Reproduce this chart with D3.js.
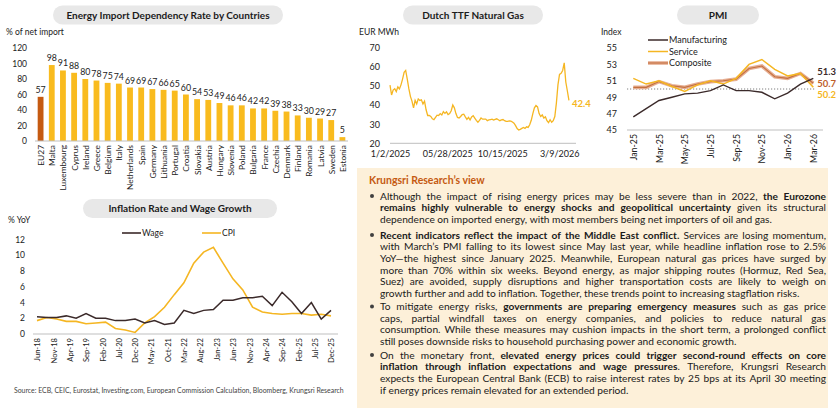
<!DOCTYPE html>
<html>
<head>
<meta charset="utf-8">
<script src="https://cdn.jsdelivr.net/npm/d3@7"></script>
<style>
  body { margin: 0; background: #fff; }
  svg { display: block; font-family: Lato, "Noto Sans", sans-serif; }
</style>
</head>
<body>
<svg id="chart" width="840" height="416"></svg>
<script>
// ---- data ----
const importCountries = ["EU27", "Malta", "Luxembourg", "Cyprus", "Ireland", "Greece", "Belgium", "Italy",
  "Netherlands", "Spain", "Germany", "Lithuania", "Portugal", "Croatia", "Slovakia", "Austria", "Hungary",
  "Slovenia", "Poland", "Bulgaria", "France", "Czechia", "Denmark", "Finland", "Romania", "Latvia", "Sweden", "Estonia"];
const importRates = [57, 98, 91, 88, 80, 78, 75, 74, 69, 69, 67, 66, 65, 60, 54, 53, 49, 46, 46, 42, 42, 39, 38, 33, 30, 29, 27, 5];
const importTicks = [0, 20, 40, 60, 80, 100, 120];

// quarterly, starting Jun-18
const inflStart = "Jun-18";
const wageGrowth = [2.2, 2.1, 2.1, 2.3, 2.0, 2.6, 2.0, 2.0, 1.7, 1.7, 1.9, 1.4, 1.7, 1.2, 1.4, 3.0, 2.6, 3.0, 3.1, 4.3,
  4.3, 4.6, 4.6, 4.8, 3.6, 5.3, 4.1, 2.6, 4.0, 1.9, 3.0];
const cpiInflation = [1.7, 2.1, 1.9, 1.6, 1.6, 1.3, 1.4, 1.5, 0.7, 0.5, 0.2, 1.4, 2.2, 3.4, 5.0, 6.5, 9.0, 10.4, 11.0, 9.0,
  7.0, 5.6, 3.4, 2.8, 2.6, 2.5, 2.6, 2.6, 2.4, 2.5, 2.3];
const inflTicks = ["Jun-18", "Nov-18", "Apr-19", "Sep-19", "Feb-20", "Jul-20", "Dec-20", "May-21", "Oct-21", "Mar-22",
  "Aug-22", "Jan-23", "Jun-23", "Nov-23", "Apr-24", "Sep-24", "Feb-25", "Jul-25", "Dec-25"];
const inflYTicks = [0, 2, 4, 6, 8, 10, 12];

// Dutch TTF, one reading every 4 days from 2 Jan 2025
const ttfStart = "2025-01-02";
const ttfStepDays = 4;
const ttfPrices = [50.4, 45.2, 47.8, 48.5, 47, 49.5, 48.4, 50.5, 53.5, 57, 58, 53.5, 48.5, 44.5, 42, 38.5, 42.4, 40.6, 43.2, 42.4,
  42.7, 40.5, 42, 37.5, 34.5, 34.5, 34, 32.8, 32.3, 33.5, 34.7, 34.5, 35.5, 34.8, 36.5, 35.6, 36.4, 35, 35.5, 37,
  40, 38.5, 35.5, 33.5, 33.2, 34, 35, 35.2, 33.8, 32.5, 33.5, 32.2, 33.8, 34.4, 33.2, 32, 31, 32, 33.2, 32.6,
  32.6, 32.6, 31.8, 32.2, 32.4, 32.6, 32.1, 32.5, 32.8, 32.3, 31.8, 32.2, 32.4, 31.8, 31.4, 31.4, 31.7, 31.6, 31.1, 30.5,
  29.2, 27.7, 27, 27.3, 27.8, 28.3, 27.8, 28.6, 28.3, 29.7, 32, 35.5, 38.5, 39.7, 39, 35.5, 34, 34.8, 33.2, 33.8,
  31.8, 30.8, 32.3, 31, 31.8, 34, 41, 50.5, 56, 56.5, 58, 62, 52, 47.3, 42.4];
const ttfTicks = ["1/2/2025", "05/28/2025", "10/15/2025", "3/9/2026"];
const ttfYTicks = [20, 30, 40, 50, 60, 70];

const pmiMonths = ["Jan-25", "Feb-25", "Mar-25", "Apr-25", "May-25", "Jun-25", "Jul-25", "Aug-25", "Sep-25", "Oct-25",
  "Nov-25", "Dec-25", "Jan-26", "Feb-26", "Mar-26"];
const pmiManufacturing = [46.6, 47.6, 48.6, 49.0, 49.4, 49.5, 49.8, 50.5, 49.8, 49.8, 49.6, 48.8, 49.5, 50.6, 51.3];
const pmiService = [51.3, 50.6, 51.0, 50.3, 49.7, 50.5, 51.0, 50.6, 51.3, 53.0, 53.6, 52.4, 51.6, 51.9, 50.2];
const pmiComposite = [50.2, 50.2, 50.9, 50.4, 50.2, 50.6, 50.9, 51.0, 51.2, 52.5, 52.8, 51.5, 51.3, 51.9, 50.7];
const pmiTicks = ["Jan-25", "Mar-25", "May-25", "Jul-25", "Sep-25", "Nov-25", "Jan-26", "Mar-26"];
const pmiYTicks = [45, 47, 49, 51, 53, 55];

const viewTitle = "Krungsri Research’s view";
const viewBullets = [
  ["Although the impact of rising energy prices may be less severe than in 2022, **the Eurozone**",
   "**remains highly vulnerable to energy shocks and geopolitical uncertainty** given its structural",
   "dependence on imported energy, with most members being net importers of oil and gas."],
  ["**Recent indicators reflect the impact of the Middle East conflict.** Services are losing momentum,",
   "with March’s PMI falling to its lowest since May last year, while headline inflation rose to 2.5%",
   "YoY—the highest since January 2025. Meanwhile, European natural gas prices have surged by",
   "more than 70% within six weeks. Beyond energy, as major shipping routes (Hormuz, Red Sea,",
   "Suez) are avoided, supply disruptions and higher transportation costs are likely to weigh on",
   "growth further and add to inflation. Together, these trends point to increasing stagflation risks."],
  ["To mitigate energy risks, **governments are preparing emergency measures** such as gas price",
   "caps, partial windfall taxes on energy companies, and policies to reduce natural gas",
   "consumption. While these measures may cushion impacts in the short term, a prolonged conflict",
   "still poses downside risks to household purchasing power and economic growth."],
  ["On the monetary front, **elevated energy prices could trigger second-round effects on core**",
   "**inflation through inflation expectations and wage pressures**. Therefore, Krungsri Research",
   "expects the European Central Bank (ECB) to raise interest rates by 25 bps at its April 30 meeting",
   "if energy prices remain elevated for an extended period."]
];
const sourceNote = "Source: ECB, CEIC, Eurostat, Investing.com, European Commission Calculation, Bloomberg, Krungsri Research";

// ---- colours ----
const gold = "#F9BB1E";
const rust = "#C55A11";
const dark = "#3B2A2A";
const axisGray = "#BFBFBF";

const svg = d3.select("#chart");

// rounded grey title
function pill(cx, cy, w, label) {
  svg.append("rect").attr("x", cx - w / 2).attr("y", cy - 9.5).attr("width", w).attr("height", 19)
    .attr("rx", 9.5).attr("fill", "#E8E8E8");
  svg.append("text").attr("x", cx).attr("y", cy).attr("dy", "0.36em").attr("text-anchor", "middle")
    .attr("font-size", 10).attr("font-weight", 700).attr("fill", "#1b1b1b").text(label);
}

function styleAxis(g, size) {
  g.select(".domain").remove();
  g.attr("font-family", null).attr("font-size", size);
  g.selectAll("text").attr("fill", "#222");
}

function rotateLabels(g) {
  g.selectAll("text").attr("transform", "rotate(-90)").attr("text-anchor", "end")
    .attr("x", -4).attr("y", 0).attr("dy", "0.35em");
}

// ---- Energy import dependency ----
pill(168, 15, 230, "Energy Import Dependency Rate by Countries");
svg.append("text").attr("x", 6).attr("y", 35).attr("font-size", 8.5).attr("fill", "#222").text("% of net import");

const xBar = d3.scalePoint().domain(importCountries).range([35, 348]).padding(0.5);
const yBar = d3.scaleLinear().domain([0, 120]).range([141, 48]);
const barW = xBar.step() * 0.52;

svg.append("g").attr("transform", "translate(30,0)")
  .call(d3.axisLeft(yBar).tickValues(importTicks).tickSize(0).tickPadding(3))
  .call(g => styleAxis(g, 8.5));

svg.append("g").selectAll("rect").data(importCountries).join("rect")
  .attr("x", d => xBar(d) - barW / 2).attr("width", barW)
  .attr("y", (d, i) => yBar(importRates[i]))
  .attr("height", (d, i) => yBar(0) - yBar(importRates[i]))
  .attr("fill", (d, i) => i === 0 ? rust : gold);

svg.append("g").selectAll("text").data(importCountries).join("text")
  .attr("x", d => xBar(d)).attr("y", (d, i) => yBar(importRates[i]) - 4)
  .attr("text-anchor", "middle").attr("font-size", 8.8).attr("fill", "#222")
  .text((d, i) => importRates[i]);

svg.append("line").attr("x1", 35).attr("x2", 348).attr("y1", yBar(0)).attr("y2", yBar(0))
  .attr("stroke", axisGray);

svg.append("g").attr("transform", `translate(0,${yBar(0)})`)
  .call(d3.axisBottom(xBar).tickSize(0).tickPadding(0))
  .call(g => styleAxis(g, 8.4))
  .call(rotateLabels);

// ---- Inflation and wages ----
pill(180, 208.5, 194, "Inflation Rate and Wage Growth");
svg.append("text").attr("x", 8).attr("y", 223).attr("font-size", 8.5).attr("fill", "#222").text("% YoY");

const parseMon = d3.timeParse("%b-%y");
const inflDates = wageGrowth.map((d, i) => d3.timeMonth.offset(parseMon(inflStart), 3 * i));
const xInfl = d3.scaleTime().domain([parseMon("Jun-18"), parseMon("Dec-25")]).range([37, 331]);
const yInfl = d3.scaleLinear().domain([0, 12]).range([334, 239.5]);

svg.append("g").attr("transform", "translate(28,0)")
  .call(d3.axisLeft(yInfl).tickValues(inflYTicks).tickSize(0).tickPadding(3))
  .call(g => styleAxis(g, 8.5));

svg.append("line").attr("x1", 33).attr("x2", 338).attr("y1", yInfl(0)).attr("y2", yInfl(0))
  .attr("stroke", axisGray);

svg.append("g").attr("transform", `translate(0,${yInfl(0)})`)
  .call(d3.axisBottom(xInfl).tickValues(inflTicks.map(parseMon)).tickFormat(d3.timeFormat("%b-%y"))
    .tickSize(0).tickPadding(0))
  .call(g => styleAxis(g, 7.6))
  .call(rotateLabels);

const inflLine = d3.line().x((d, i) => xInfl(inflDates[i])).y(d => yInfl(d));
svg.append("path").datum(cpiInflation).attr("d", inflLine).attr("fill", "none")
  .attr("stroke", "#F5B622").attr("stroke-width", 1.6);
svg.append("path").datum(wageGrowth).attr("d", inflLine).attr("fill", "none")
  .attr("stroke", dark).attr("stroke-width", 1.5);

const inflLegend = [["Wage", dark, 122], ["CPI", "#F5B622", 202]];
inflLegend.forEach(([name, col, lx]) => {
  svg.append("line").attr("x1", lx).attr("x2", lx + 19).attr("y1", 233).attr("y2", 233)
    .attr("stroke", col).attr("stroke-width", 1.6);
  svg.append("text").attr("x", lx + 20).attr("y", 233).attr("dy", "0.35em").attr("font-size", 8.5)
    .attr("fill", "#222").text(name);
});

svg.append("text").attr("x", 14).attr("y", 391).attr("dy", "0.35em").attr("font-size", 6.9)
  .attr("fill", "#444").text(sourceNote);

// ---- Dutch TTF ----
pill(473, 15, 140, "Dutch TTF Natural Gas");
svg.append("text").attr("x", 359).attr("y", 35).attr("font-size", 8.5).attr("fill", "#222").text("EUR MWh");

const parseDay = d3.timeParse("%Y-%m-%d");
const parseTick = d3.timeParse("%m/%d/%Y");
const ttfDates = ttfPrices.map((d, i) => d3.timeDay.offset(parseDay(ttfStart), ttfStepDays * i));
const xTtf = d3.scaleTime().domain([parseDay("2025-01-02"), parseDay("2026-04-21")]).range([390, 576]);
const yTtf = d3.scaleLinear().domain([20, 70]).range([143.3, 47.5]);

svg.append("g").attr("transform", "translate(383,0)")
  .call(d3.axisLeft(yTtf).tickValues(ttfYTicks).tickSize(0).tickPadding(3))
  .call(g => styleAxis(g, 9));

svg.append("line").attr("x1", 390).attr("x2", 576).attr("y1", yTtf(20)).attr("y2", yTtf(20))
  .attr("stroke", axisGray);

svg.append("g").attr("transform", `translate(0,${yTtf(20)})`)
  .call(d3.axisBottom(xTtf).tickValues(ttfTicks.map(parseTick)).tickFormat((d, i) => ttfTicks[i])
    .tickSize(0).tickPadding(7))
  .call(g => styleAxis(g, 9));

svg.append("path").datum(ttfPrices)
  .attr("d", d3.line().x((d, i) => xTtf(ttfDates[i])).y(d => yTtf(d)))
  .attr("fill", "none").attr("stroke", "#F5B622").attr("stroke-width", 1.3);

const ttfLast = ttfPrices.length - 1;
svg.append("text").attr("x", xTtf(ttfDates[ttfLast]) + 3).attr("y", yTtf(ttfPrices[ttfLast]) + 3)
  .attr("dy", "0.35em").attr("font-size", 9.5).attr("font-weight", 700).attr("fill", "#F5B622")
  .text(ttfPrices[ttfLast].toFixed(1));

// ---- PMI ----
pill(718, 15, 82, "PMI");
svg.append("text").attr("x", 601).attr("y", 35).attr("font-size", 8.5).attr("fill", "#222").text("Index");

const xPmi = d3.scalePoint().domain(pmiMonths).range([633.3, 813.3]);
const yPmi = d3.scaleLinear().domain([45, 55]).range([130, 48]);

svg.append("g").attr("transform", "translate(620,0)")
  .call(d3.axisLeft(yPmi).tickValues(pmiYTicks).tickSize(0).tickPadding(3))
  .call(g => styleAxis(g, 9));

svg.append("line").attr("x1", 627).attr("x2", 823).attr("y1", yPmi(45)).attr("y2", yPmi(45))
  .attr("stroke", axisGray);
svg.append("line").attr("x1", 627).attr("x2", 816).attr("y1", yPmi(50)).attr("y2", yPmi(50))
  .attr("stroke", "#7F7F7F").attr("stroke-dasharray", "1.2,1.8");

svg.append("g").attr("transform", `translate(0,${yPmi(45)})`)
  .call(d3.axisBottom(xPmi).tickValues(pmiTicks).tickSize(0).tickPadding(0))
  .call(g => styleAxis(g, 8.8))
  .call(rotateLabels);

const pmiLine = d3.line().x((d, i) => xPmi(pmiMonths[i])).y(d => yPmi(d));
svg.append("path").datum(pmiComposite).attr("d", pmiLine).attr("fill", "none")
  .attr("stroke", "#E6AE92").attr("stroke-width", 3.6);
svg.append("path").datum(pmiComposite).attr("d", pmiLine).attr("fill", "none")
  .attr("stroke", "#C4703F").attr("stroke-width", 1.1);
svg.append("path").datum(pmiService).attr("d", pmiLine).attr("fill", "none")
  .attr("stroke", "#F5B622").attr("stroke-width", 1.5);
svg.append("path").datum(pmiManufacturing).attr("d", pmiLine).attr("fill", "none")
  .attr("stroke", dark).attr("stroke-width", 1.4);

const pmiLegend = [["Manufacturing", 40], ["Service", 51.5], ["Composite", 63]];
pmiLegend.forEach(([name, ly], k) => {
  const lg = svg.append("g");
  if (k === 2) {
    lg.append("line").attr("x1", 648).attr("x2", 668).attr("y1", ly).attr("y2", ly)
      .attr("stroke", "#E6AE92").attr("stroke-width", 3.6);
    lg.append("line").attr("x1", 648).attr("x2", 668).attr("y1", ly).attr("y2", ly)
      .attr("stroke", "#C4703F").attr("stroke-width", 1.1);
  } else {
    lg.append("line").attr("x1", 648).attr("x2", 668).attr("y1", ly).attr("y2", ly)
      .attr("stroke", k === 0 ? dark : "#F5B622").attr("stroke-width", 1.5);
  }
  lg.append("text").attr("x", 669).attr("y", ly).attr("dy", "0.35em").attr("font-size", 9)
    .attr("fill", "#222").text(name);
});

const pmiEnd = [[pmiManufacturing, dark, 72], [pmiComposite, "#C0602A", 83.5], [pmiService, "#F5B622", 95]];
pmiEnd.forEach(([series, col, ty]) => {
  svg.append("text").attr("x", xPmi(pmiMonths[pmiMonths.length - 1]) + 4).attr("y", ty).attr("dy", "0.35em")
    .attr("font-size", 9.5).attr("font-weight", 700).attr("fill", col)
    .text(series[series.length - 1].toFixed(1));
});

// ---- Research view text box ----
svg.append("rect").attr("x", 357).attr("y", 168).attr("width", 471).attr("height", 240).attr("fill", "#FDF0D9");
svg.append("text").attr("x", 369).attr("y", 180).attr("dy", "0.35em").attr("font-size", 10.5)
  .attr("font-weight", 700).attr("fill", rust).text(viewTitle);

const textLeft = 380, textWidth = 446;
const box = svg.append("g").attr("fill", "#1a1a1a");

function splitWords(line) {
  const words = [];
  let cur = [];
  line.split("**").forEach((seg, si) => {
    seg.split(" ").forEach((p, pi) => {
      if (pi > 0) { if (cur.length) words.push(cur); cur = []; }
      if (p) cur.push({ t: p, b: si % 2 === 1 });
    });
  });
  if (cur.length) words.push(cur);
  return words;
}

function wordNode(w, size) {
  const t = box.append("text").attr("font-size", size);
  w.forEach(p => t.append("tspan").attr("font-weight", p.b ? 700 : 400).text(p.t));
  return t;
}

// fit font so the longest line fills the column
const probe = 10;
const probeSpace = probe * 0.25;
let widest = 0;
viewBullets.flat().forEach(line => {
  const ws = splitWords(line);
  let w = 0;
  ws.forEach(wd => { const n = wordNode(wd, probe); w += n.node().getComputedTextLength(); n.remove(); });
  w += probeSpace * (ws.length - 1);
  widest = Math.max(widest, w);
});
const bodySize = Math.min(10.2, probe * textWidth / widest);
const lineGap = 11.7;
const bulletTops = [196, 235, 306.5, 355];

viewBullets.forEach((lines, bi) => {
  box.append("circle").attr("cx", 372).attr("cy", bulletTops[bi]).attr("r", 2).attr("fill", "#404040");
  lines.forEach((line, li) => {
    const y = bulletTops[bi] + li * lineGap;
    const ws = splitWords(line);
    const nodes = ws.map(wd => wordNode(wd, bodySize).attr("y", y).attr("dy", "0.35em"));
    const widths = nodes.map(n => n.node().getComputedTextLength());
    const last = li === lines.length - 1;
    const gap = last ? bodySize * 0.25 : (textWidth - d3.sum(widths)) / (ws.length - 1);
    let cx = textLeft;
    nodes.forEach((n, i) => { n.attr("x", cx); cx += widths[i] + gap; });
  });
});
</script>
</body>
</html>
